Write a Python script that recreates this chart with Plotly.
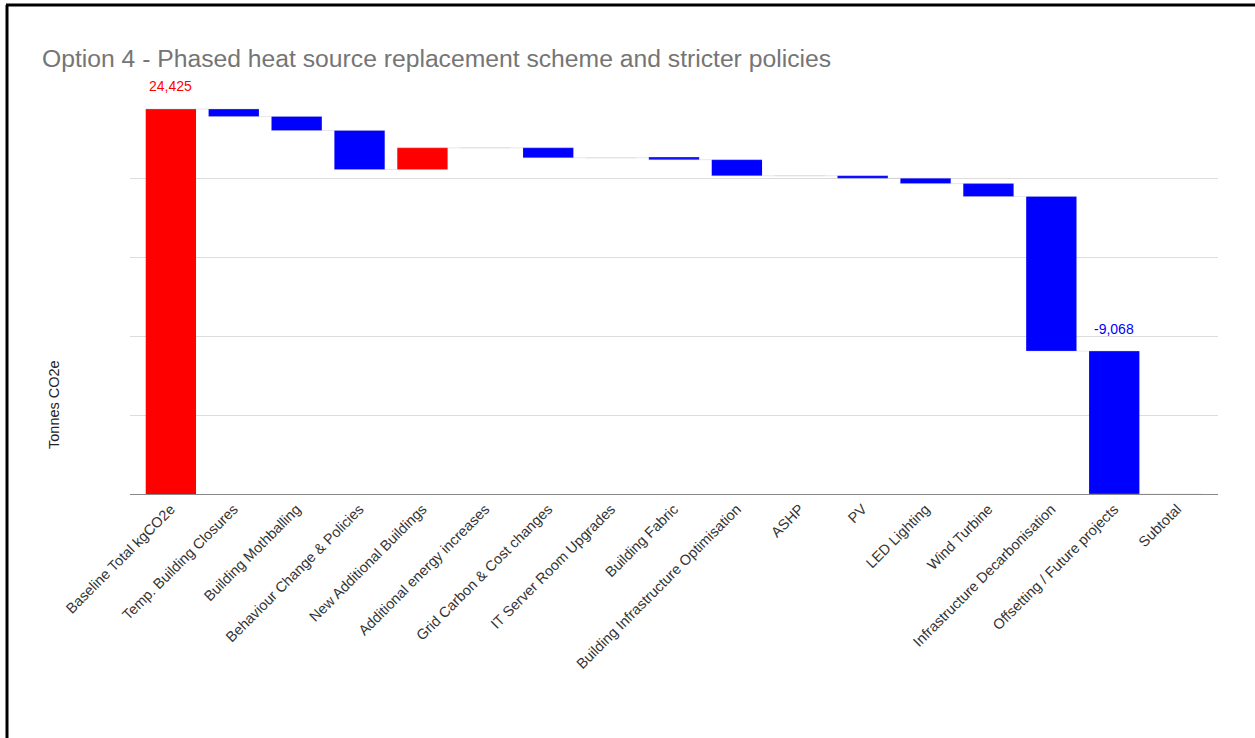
import plotly.graph_objects as go

# Waterfall steps (tonnes CO2e)
categories = [
    "Baseline Total kgCO2e", "Temp. Building Closures", "Building Mothballing",
    "Behaviour Change & Policies", "New Additional Buildings",
    "Additional energy increases", "Grid Carbon & Cost changes",
    "IT Server Room Upgrades", "Building Fabric",
    "Building Infrastructure Optimisation", "ASHP", "PV", "LED Lighting",
    "Wind Turbine", "Infrastructure Decarbonisation",
    "Offsetting / Future projects", "Subtotal",
]
values = [24425, -470, -890, -2476, 1378, 0, -635, 0, -120, -1016,
          0, -160, -340, -820, -9808, -9068, 0]
measures = ["absolute"] + ["relative"] * 15 + ["total"]

RED = "#ff0000"
BLUE = "#0000ff"

W, H = 1255, 738
L, R, T, B = 130, 1255 - 1218, 100, 738 - 494

fig = go.Figure(go.Waterfall(
    x=categories,
    y=values,
    measure=measures,
    increasing=dict(marker=dict(color=RED)),
    decreasing=dict(marker=dict(color=BLUE)),
    totals=dict(marker=dict(color=RED)),
    connector=dict(mode="spanning",
                   line=dict(color="rgba(190,190,200,0.35)", width=1)),
    hoverinfo="x+y",
))

# Value labels on the starting total and the offsetting step
fig.add_annotation(x=categories[0], y=values[0], text=f"{values[0]:,}",
                   showarrow=False, yanchor="bottom", yshift=13,
                   font=dict(size=14, color=RED))
fig.add_annotation(x=categories[15], y=-values[15], text=f"{values[15]:,}",
                   showarrow=False, yanchor="bottom", yshift=12,
                   font=dict(size=14, color=BLUE))


def px_x(p):
    return (p - L) / (W - L - R)


def px_y(p):
    return (494 - p) / (494 - 100)


# Vertical axis title
fig.add_annotation(xref="paper", yref="paper", x=px_x(54), y=px_y(405),
                   xanchor="center", yanchor="middle",
                   text="Tonnes CO2e", textangle=-90, showarrow=False,
                   font=dict(size=14.5, color="#222222"))

# Frame along the top and left edges
fig.add_shape(type="line", xref="paper", yref="paper",
              x0=px_x(6), x1=px_x(W + 5), y0=px_y(5), y1=px_y(5),
              line=dict(color="black", width=3))
fig.add_shape(type="line", xref="paper", yref="paper",
              x0=px_x(7), x1=px_x(7), y0=px_y(5), y1=px_y(H + 5),
              line=dict(color="black", width=3))

fig.update_layout(
    width=W, height=H,
    margin=dict(l=L, r=R, t=T, b=B),
    paper_bgcolor="white", plot_bgcolor="white",
    font=dict(family="Liberation Sans, Arial, sans-serif", color="#222222"),
    title=dict(text="Option 4 - Phased heat source replacement scheme and stricter policies",
               x=42 / W, xanchor="left", y=1 - 58 / H, yanchor="middle",
               font=dict(size=24.7, color="#757575")),
    showlegend=False,
    bargap=0.35,
    xaxis=dict(range=[-0.65, 16.65], tickangle=-45, showgrid=False,
               tickfont=dict(size=14.5, color="#333333"),
               showline=True, linecolor="#888888", linewidth=1,
               ticks="", automargin=False),
    yaxis=dict(range=[0, 25000], dtick=5000, showticklabels=False,
               gridcolor="#dddddd", zeroline=False, showline=False,
               automargin=False),
)

fig.write_html("out.html")
